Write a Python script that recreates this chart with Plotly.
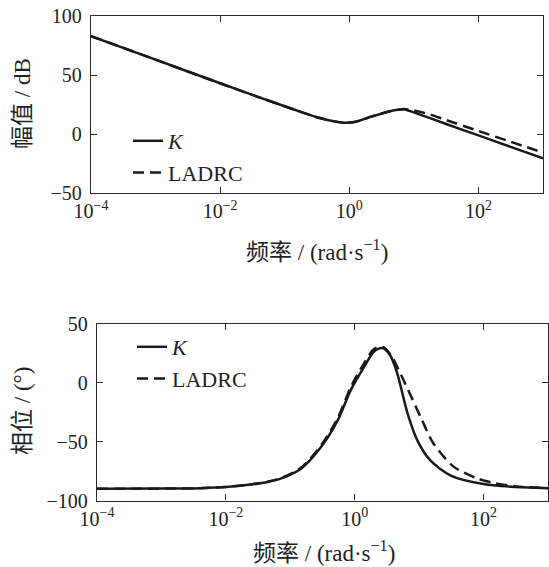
import plotly.graph_objects as go

# Bode plot of the K controller vs. LADRC
# frequencies are stored as decade exponents: w = 10**exp (rad/s)

mag_exp = [-4, -3, -2, -1.5, -1, -0.75, -0.5, -0.25, -0.09, 0.1, 0.34, 0.6,
           0.75, 0.85, 1.0, 1.25, 1.5, 2.0, 2.5, 3.0]
mag_K = [83, 63, 43, 33.1, 23.5, 18.7, 14.2, 10.9, 9.6, 10.4, 14.7, 18.9,
         20.5, 21.0, 18.3, 13.4, 8.5, -1.2, -10.9, -20.6]
mag_LADRC = [83, 63, 43, 33.1, 23.5, 18.7, 14.2, 10.9, 9.6, 10.4, 14.7, 18.9,
             20.6, 21.2, 20.0, 16.6, 11.8, 2.6, -6.6, -15.8]

ph_exp_K = [-4, -3, -2.4, -2, -1.65, -1.35, -1.13, -0.83, -0.52, -0.26, -0.06,
            0.15, 0.3, 0.43, 0.55, 0.66, 0.82, 0.97, 1.17, 1.5, 2, 2.5, 3]
ph_K = [-90, -89.9, -89.5, -88.6, -86.7, -84.2, -81, -72.7, -54.3, -31.5, -6,
        14, 26.7, 29.6, 23.5, 8, -26, -48.7, -65.7, -79, -86, -88.5, -89.5]

ph_exp_LADRC = [-4, -3, -2.4, -2, -1.65, -1.35, -1.13, -0.83, -0.52, -0.26, -0.06,
                0.15, 0.3, 0.43, 0.56, 0.76, 1.02, 1.22, 1.53, 1.89, 2.15, 2.5, 3]
ph_LADRC = [-90, -89.9, -89.5, -88.5, -86.5, -84, -80.8, -72, -53, -29.5, -3.5,
            17, 28.8, 30.8, 23.7, 2, -28.7, -51.3, -71, -81, -85, -88, -89.5]

x_tickvals = [1e-4, 1e-2, 1, 1e2]
x_ticktext = ["10<sup>−4</sup>", "10<sup>−2</sup>", "10<sup>0</sup>", "10<sup>2</sup>"]
mag_ticks = [-50, 0, 50, 100]
ph_ticks = [-100, -50, 0, 50]

SERIF = "Liberation Serif, Times New Roman, Noto Sans CJK SC, serif"
AXC = "#2a2a2a"
LINE = "#1a1a1a"
DASH = "11px,6px"


def freqs(exps):
    return [10 ** e for e in exps]


fig = go.Figure()
fig.add_trace(go.Scatter(x=freqs(mag_exp), y=mag_K, mode="lines", name="<i>K</i>",
                         line=dict(color=LINE, width=2.5, shape="spline", smoothing=0.6),
                         xaxis="x", yaxis="y", legend="legend"))
fig.add_trace(go.Scatter(x=freqs(mag_exp), y=mag_LADRC, mode="lines", name="LADRC",
                         line=dict(color=LINE, width=2.5, dash=DASH, shape="spline", smoothing=0.6),
                         xaxis="x", yaxis="y", legend="legend"))
fig.add_trace(go.Scatter(x=freqs(ph_exp_K), y=ph_K, mode="lines", name="<i>K</i>",
                         line=dict(color=LINE, width=2.5, shape="spline", smoothing=0.8),
                         xaxis="x2", yaxis="y2", legend="legend2"))
fig.add_trace(go.Scatter(x=freqs(ph_exp_LADRC), y=ph_LADRC, mode="lines", name="LADRC",
                         line=dict(color=LINE, width=2.5, dash=DASH, shape="spline", smoothing=0.8),
                         xaxis="x2", yaxis="y2", legend="legend2"))

W, H = 549, 567


def px_x(p):
    return p / W


def px_y(p):
    return 1 - p / H


common_x = dict(type="log", range=[-4, 3], tickvals=x_tickvals, ticktext=x_ticktext,
                ticks="inside", ticklen=6, tickwidth=1.2, tickcolor=AXC,
                showline=True, linecolor=AXC, linewidth=1.3, mirror="ticks",
                showgrid=False, zeroline=False, automargin=False,
                tickfont=dict(family=SERIF, size=20, color="#222"))
common_y = dict(ticks="inside", ticklen=6, tickwidth=1.2, tickcolor=AXC,
                showline=True, linecolor=AXC, linewidth=1.3, mirror="ticks",
                showgrid=False, zeroline=False, ticklabelstandoff=4, automargin=False,
                tickfont=dict(family=SERIF, size=20, color="#222"))

legend_font = dict(family=SERIF, size=22, color="#222")

fig.update_layout(
    width=W, height=H,
    margin=dict(l=0, r=0, t=0, b=0),
    paper_bgcolor="white", plot_bgcolor="white",
    xaxis=dict(common_x, domain=[px_x(91), px_x(543)], anchor="y"),
    yaxis=dict(common_y, domain=[px_y(193), px_y(16)], range=[-50, 100],
               tickvals=mag_ticks, anchor="x"),
    xaxis2=dict(common_x, domain=[px_x(97), px_x(548)], anchor="y2"),
    yaxis2=dict(common_y, domain=[px_y(500.5), px_y(324)], range=[-100, 50],
                tickvals=ph_ticks, anchor="x2"),
    legend=dict(x=px_x(128), y=px_y(120), xanchor="left", yanchor="top",
                bgcolor="rgba(0,0,0,0)", font=legend_font,
                tracegroupgap=0, itemwidth=30),
    legend2=dict(x=px_x(132), y=px_y(326), xanchor="left", yanchor="top",
                 bgcolor="rgba(0,0,0,0)", font=legend_font,
                 tracegroupgap=0, itemwidth=30),
    showlegend=True,
)

title_font = dict(family=SERIF, size=23, color="#222")
titles = [
    ("频率 / (rad·s<sup>−1</sup>)", 317, 250, 0),
    ("频率 / (rad·s<sup>−1</sup>)", 324, 551, 0),
    ("幅值 / dB", 22, 104, -90),
    ("相位 / (°)", 22, 411, -90),
]
for text, tx, ty, ang in titles:
    fig.add_annotation(text=text, x=px_x(tx), y=px_y(ty), textangle=ang,
                       xref="paper", yref="paper", xanchor="center", yanchor="middle",
                       showarrow=False, font=title_font)

fig.write_html("out.html")
